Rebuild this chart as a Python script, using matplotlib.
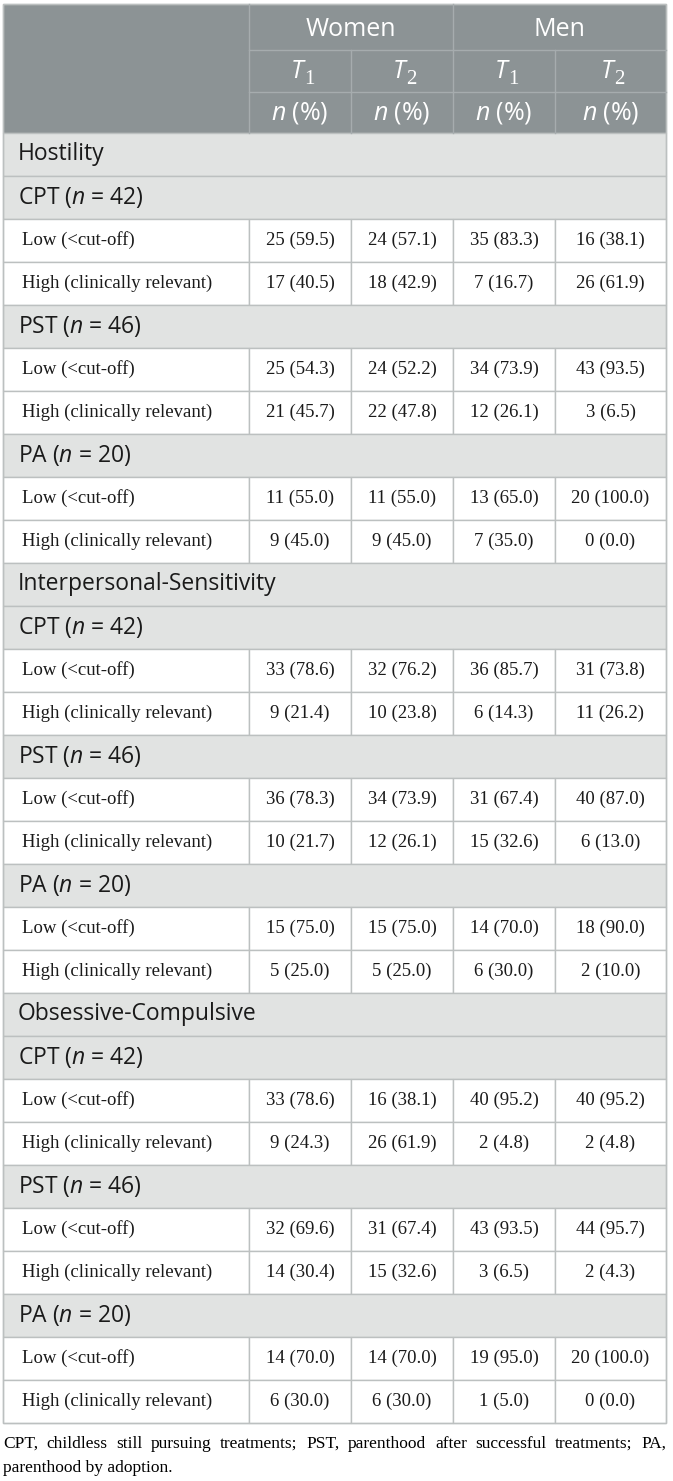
import matplotlib
matplotlib.use("Agg")
from matplotlib import pyplot as plt
from matplotlib.patches import Rectangle

sections = ["Hostility", "Interpersonal-Sensitivity", "Obsessive-Compulsive"]
groups = ["CPT", "PST", "PA"]
group_n = [42, 46, 20]
levels = ["Low (<cut-off)", "High (clinically relevant)"]
sexes = ["Women", "Men"]
times = ["1", "2"]

# rows: CPT low, CPT high, PST low, PST high, PA low, PA high
# columns: women T1, women T2, men T1, men T2
hostility_n = [[25, 24, 35, 16], [17, 18, 7, 26],
               [25, 24, 34, 43], [21, 22, 12, 3],
               [11, 11, 13, 20], [9, 9, 7, 0]]
hostility_pct = [[59.5, 57.1, 83.3, 38.1], [40.5, 42.9, 16.7, 61.9],
                 [54.3, 52.2, 73.9, 93.5], [45.7, 47.8, 26.1, 6.5],
                 [55.0, 55.0, 65.0, 100.0], [45.0, 45.0, 35.0, 0.0]]
interpersonal_n = [[33, 32, 36, 31], [9, 10, 6, 11],
                   [36, 34, 31, 40], [10, 12, 15, 6],
                   [15, 15, 14, 18], [5, 5, 6, 2]]
interpersonal_pct = [[78.6, 76.2, 85.7, 73.8], [21.4, 23.8, 14.3, 26.2],
                     [78.3, 73.9, 67.4, 87.0], [21.7, 26.1, 32.6, 13.0],
                     [75.0, 75.0, 70.0, 90.0], [25.0, 25.0, 30.0, 10.0]]
obsessive_n = [[33, 16, 40, 40], [9, 26, 2, 2],
               [32, 31, 43, 44], [14, 15, 3, 2],
               [14, 14, 19, 20], [6, 6, 1, 0]]
obsessive_pct = [[78.6, 38.1, 95.2, 95.2], [24.3, 61.9, 4.8, 4.8],
                 [69.6, 67.4, 93.5, 95.7], [30.4, 32.6, 6.5, 4.3],
                 [70.0, 70.0, 95.0, 100.0], [30.0, 30.0, 5.0, 0.0]]

footnote_1 = "CPT, childless still pursuing treatments; PST, parenthood after successful treatments; PA,"
footnote_2 = "parenthood by adoption."

# --- styles ---
HEAD_BG = "#8c9395"
HEAD_LINE = "#a6acae"
GROUP_BG = "#e1e3e2"
LINE = "#bcc0c0"
SANS = "Open Sans"
SERIF = "Liberation Serif"

plt.rcParams["mathtext.fontset"] = "custom"
plt.rcParams["mathtext.rm"] = SERIF
plt.rcParams["mathtext.it"] = SANS + ":italic"

W, H = 673, 1481
fig = plt.figure(figsize=(W / 100, H / 100), dpi=100)
ax = fig.add_axes([0, 0, 1, 1])
ax.set_xlim(0, W)
ax.set_ylim(H, 0)
ax.axis("off")

col_x = [3, 249, 351, 453, 555, 666]
head_y = [4, 50, 92, 133]
row_h = 43


def cell(x0, y0, x1, y1, fc, ec, lw=1.0):
    ax.add_patch(Rectangle((x0, y0), x1 - x0, y1 - y0, facecolor=fc,
                           edgecolor=ec, linewidth=lw))


# header
cell(col_x[0], head_y[0], col_x[-1], head_y[-1], HEAD_BG, LINE)
ax.plot([col_x[1], col_x[1]], [head_y[0], head_y[-1]], color=HEAD_LINE, lw=1)
ax.plot([col_x[3], col_x[3]], [head_y[0], head_y[-1]], color=HEAD_LINE, lw=1)
for c in (2, 4):
    ax.plot([col_x[c], col_x[c]], [head_y[1], head_y[-1]], color=HEAD_LINE, lw=1)
for yy in head_y[1:3]:
    ax.plot([col_x[1], col_x[-1]], [yy, yy], color=HEAD_LINE, lw=1)

for i, s in enumerate(sexes):
    xc = (col_x[1 + 2 * i] + col_x[3 + 2 * i]) / 2
    ax.text(xc, (head_y[0] + head_y[1]) / 2 + 2, s, ha="center", va="center",
            color="white", fontsize=18, family=SANS)
for c in range(4):
    xc = (col_x[c + 1] + col_x[c + 2]) / 2
    base = (head_y[1] + head_y[2]) / 2 + 7
    # italic sans T with a serif subscript, as in the source
    ax.text(xc + 3, base, "T", ha="right", va="baseline", color="white",
            fontsize=18, family=SANS, style="italic")
    ax.text(xc + 4, base + 6, times[c % 2], ha="left", va="baseline",
            color="white", fontsize=15, family=SERIF)
    ax.text(xc, (head_y[2] + head_y[3]) / 2 + 1, r"$n$ (%)", ha="center",
            va="center", color="white", fontsize=18, family=SANS)

# body
body_n = [hostility_n, interpersonal_n, obsessive_n]
body_pct = [hostility_pct, interpersonal_pct, obsessive_pct]
y = head_y[-1]
for s, sec in enumerate(sections):
    cell(col_x[0], y, col_x[-1], y + row_h, GROUP_BG, LINE)
    ax.text(18, y + row_h / 2, sec, ha="left", va="center", fontsize=16.5,
            family=SANS, color="#1a1a1a")
    y += row_h
    for g, grp in enumerate(groups):
        cell(col_x[0], y, col_x[-1], y + row_h, GROUP_BG, LINE)
        ax.text(18, y + row_h / 2, r"%s ($n$ = %d)" % (grp, group_n[g]),
                ha="left", va="center", fontsize=16.5, family=SANS,
                color="#1a1a1a")
        y += row_h
        for l, lev in enumerate(levels):
            r = 2 * g + l
            for c in range(5):
                cell(col_x[c], y, col_x[c + 1], y + row_h, "white", LINE)
            ax.text(22, y + row_h / 2, lev, ha="left", va="center",
                    fontsize=13.5, family=SERIF, color="#1a1a1a")
            for c in range(4):
                xc = (col_x[c + 1] + col_x[c + 2]) / 2
                txt = "%d (%.1f)" % (body_n[s][r][c], body_pct[s][r][c])
                ax.text(xc, y + row_h / 2, txt, ha="center", va="center",
                        fontsize=13.5, family=SERIF, color="#1a1a1a")
            y += row_h

# outer border
cell(col_x[0], head_y[0], col_x[-1], y, "none", LINE)

# footnote, first line justified
fig.canvas.draw()
renderer = fig.canvas.get_renderer()
words = footnote_1.split(" ")
fy1, fy2 = y + 21, y + 45
tmp = [ax.text(0, fy1, w, fontsize=12.5, family=SERIF, va="center")
       for w in words]
widths = []
inv = ax.transData.inverted()
for t in tmp:
    bb = t.get_window_extent(renderer)
    x0 = inv.transform((bb.x0, 0))[0]
    x1 = inv.transform((bb.x1, 0))[0]
    widths.append(x1 - x0)
gap = (col_x[-1] - col_x[0] - sum(widths)) / (len(words) - 1)
xx = col_x[0]
for t, w in zip(tmp, widths):
    t.set_x(xx)
    xx += w + gap
ax.text(col_x[0], fy2, footnote_2, fontsize=12.5, family=SERIF, va="center")

fig.savefig("out.png", dpi=100)
